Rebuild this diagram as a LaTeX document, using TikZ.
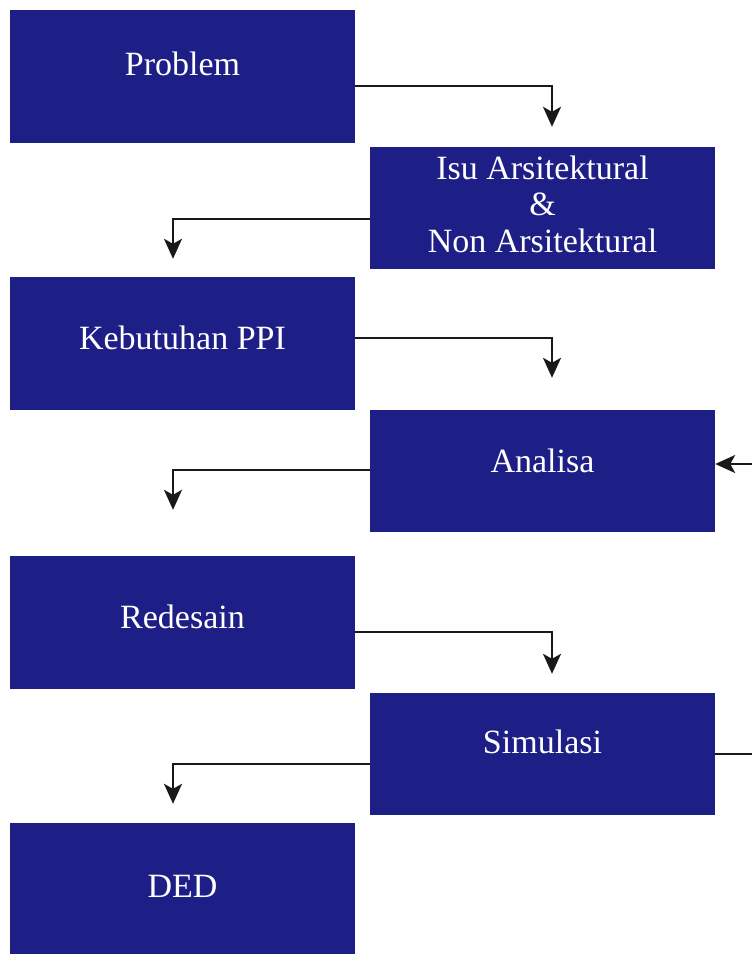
\documentclass[tikz,border=0pt]{standalone}
\usepackage{fontspec}
\setmainfont{Liberation Serif}
\usetikzlibrary{arrows.meta, positioning, calc}
\definecolor{boxnavy}{RGB}{30, 31, 134}
\definecolor{flowblack}{RGB}{26, 24, 24}
\tikzset{
  stagebox/.style={rectangle, fill=boxnavy, inner sep=0pt, minimum width=345pt},
  stagetext/.style={text=white, font=\fontsize{34}{36.5}\selectfont, align=center, inner sep=0pt},
  flow/.style={flowblack, line width=2pt, -{Stealth[length=20pt, width=18pt, inset=5pt]}}
}

\begin{document}
\begin{tikzpicture}[x=1pt, y=-1pt]

  \useasboundingbox (0,0) rectangle (752,954);

  % kolom kiri
  \node[stagebox, minimum height=133pt] (problem)   at (182.5,76.5) {};
  \node[stagebox, minimum height=133pt] (kebutuhan) at (182.5,343.5) {};
  \node[stagebox, minimum height=133pt] (redesain)  at (182.5,622.5) {};
  \node[stagebox, minimum height=133pt] (ded)       at (182.5,889.5) {};

  % kolom kanan
  \node[stagebox, minimum height=122pt] (isu)      at (542.5,208) {};
  \node[stagebox, minimum height=122pt] (analisa)  at (542.5,471) {};
  \node[stagebox, minimum height=122pt] (simulasi) at (542.5,754) {};

  % teks dalam kotak
  \node[stagetext] (problem-t)   at ([yshift=13pt]problem.center) {Problem};
  \node[stagetext] (isu-t)       at ([yshift=4pt]isu.center) {Isu Arsitektural\\\&\\Non Arsitektural};
  \node[stagetext] (kebutuhan-t) at ([yshift=5.5pt]kebutuhan.center) {Kebutuhan PPI};
  \node[stagetext] (analisa-t)   at ([yshift=10pt]analisa.center) {Analisa};
  \node[stagetext] (redesain-t)  at ([yshift=6pt]redesain.center) {Redesain};
  \node[stagetext] (simulasi-t)  at ([yshift=12pt]simulasi.center) {Simulasi};
  \node[stagetext] (ded-t)       at ([yshift=3.5pt]ded.center) {DED};

  % alur zig-zag
  \draw[flow] ([yshift=-9.5pt]problem.east) -| ([xshift=9.5pt, yshift=20pt]isu.north);
  \draw[flow] ([yshift=-11pt]isu.west) -| ([xshift=-9.5pt, yshift=18pt]kebutuhan.north);
  \draw[flow] ([yshift=5.5pt]kebutuhan.east) -| ([xshift=9.5pt, yshift=32pt]analisa.north);
  \draw[flow] ([yshift=1pt]analisa.west) -| ([xshift=-9.5pt, yshift=46pt]redesain.north);
  \draw[flow] ([yshift=-9.5pt]redesain.east) -| ([xshift=9.5pt, yshift=19pt]simulasi.north);
  \draw[flow] ([yshift=-10pt]simulasi.west) -| ([xshift=-9.5pt, yshift=19pt]ded.north);

  % umpan balik simulasi ke analisa (keluar bingkai di kanan)
  \coordinate (loopback) at (775,600);
  \draw[flow] (simulasi.east) -| (loopback) |- ([yshift=7pt]analisa.east);

\end{tikzpicture}
\end{document}
